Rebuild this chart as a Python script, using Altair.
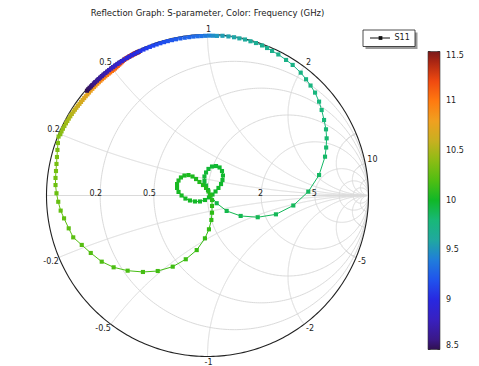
import numpy as np
import pandas as pd
import altair as alt

# ---------------- S11 data ----------------
# low-frequency part, close to the rim: |S11| and angle (deg)
lo_freq = [8.50, 8.52, 8.54, 8.56, 8.58, 8.60, 8.62, 8.64, 8.66, 8.68,
           8.70, 8.72, 8.74, 8.76, 8.78, 8.80, 8.82, 8.84, 8.86, 8.88,
           8.90, 8.92, 8.94, 8.96, 8.98, 9.00, 9.02, 9.04, 9.06, 9.08,
           9.10, 9.12, 9.14, 9.16, 9.18, 9.20, 9.22, 9.24, 9.26, 9.28,
           9.30, 9.32, 9.34, 9.36, 9.39, 9.42, 9.46, 9.50]
lo_ang = [139.0, 138.3, 137.6, 136.9, 136.2, 135.4, 134.7, 133.9, 133.1, 132.3,
          131.5, 130.7, 129.8, 129.0, 128.1, 127.2, 126.3, 125.4, 124.4, 123.5,
          122.5, 121.5, 120.4, 119.4, 118.3, 117.2, 116.1, 114.9, 113.7, 112.5,
          111.2, 109.9, 108.6, 107.2, 105.8, 104.4, 102.9, 101.4, 99.8, 98.2,
          96.6, 95.1, 93.6, 92.2, 90.8, 89.4, 88.0, 86.6]
lo_mag = [0.992, 0.992, 0.992, 0.991, 0.991, 0.991, 0.991, 0.990, 0.990, 0.990,
          0.990, 0.990, 0.990, 0.990, 0.990, 0.990, 0.990, 0.990, 0.990, 0.990,
          0.990, 0.990, 0.990, 0.990, 0.990, 0.990, 0.990, 0.990, 0.990, 0.990,
          0.990, 0.990, 0.990, 0.990, 0.990, 0.990, 0.990, 0.990, 0.990, 0.990,
          0.990, 0.991, 0.991, 0.991, 0.992, 0.993, 0.993, 0.993]

# right-hand arc down to the real axis and back toward the centre
arc_freq = [9.54, 9.56, 9.58, 9.60, 9.62, 9.64, 9.66, 9.68, 9.69, 9.70,
            9.71, 9.72, 9.73, 9.74, 9.75, 9.76, 9.77, 9.78, 9.79, 9.80,
            9.81, 9.82, 9.83, 9.84, 9.85, 9.86,
            9.87, 9.88, 9.89, 9.90, 9.91, 9.92]
arc_re = [0.093, 0.130, 0.165, 0.198, 0.233, 0.267, 0.301, 0.339, 0.370, 0.401,
          0.440, 0.488, 0.529, 0.579, 0.612, 0.640, 0.668, 0.693, 0.709, 0.724,
          0.736, 0.740, 0.737, 0.730, 0.693, 0.626,
          0.533, 0.425, 0.312, 0.206, 0.119, 0.057]
arc_im = [0.992, 0.988, 0.983, 0.976, 0.969, 0.958, 0.947, 0.932, 0.916, 0.898,
          0.876, 0.842, 0.811, 0.763, 0.722, 0.683, 0.639, 0.583, 0.531, 0.469,
          0.411, 0.355, 0.298, 0.241, 0.127, 0.024,
          -0.062, -0.117, -0.135, -0.127, -0.096, -0.048]

# the two small loops around the centre
loop_freq = [9.950, 9.953, 9.956, 9.959, 9.962, 9.965, 9.968, 9.971, 9.974, 9.977,
             9.980, 9.983, 9.986, 9.989, 9.992, 9.995, 9.998,
             10.001, 10.004, 10.007, 10.010, 10.013, 10.016, 10.019, 10.022, 10.025,
             10.028, 10.031, 10.034, 10.037, 10.040, 10.043, 10.046, 10.049,
             10.052, 10.055, 10.058, 10.061]
loop_re = [0.016, 0.003, -0.009, -0.019, -0.019, -0.009, 0.006, 0.028, 0.053, 0.075,
           0.090, 0.096, 0.093, 0.084, 0.068, 0.050, 0.031,
           0.009, -0.016, -0.047, -0.078, -0.109, -0.137, -0.161, -0.180, -0.189,
           -0.189, -0.180, -0.165, -0.143, -0.118, -0.093, -0.071, -0.050,
           -0.028, -0.009, 0.006, 0.019]
loop_im = [0.003, 0.034, 0.062, 0.090, 0.118, 0.143, 0.165, 0.180, 0.183, 0.174,
           0.152, 0.124, 0.096, 0.071, 0.047, 0.025, 0.006,
           -0.012, -0.028, -0.037, -0.037, -0.031, -0.019, 0.000, 0.022, 0.047,
           0.071, 0.093, 0.112, 0.124, 0.127, 0.118, 0.102, 0.084,
           0.065, 0.047, 0.025, 0.003]

# lower-left arc and the left edge
tail_freq = [10.07, 10.08, 10.09, 10.10, 10.11, 10.12, 10.13, 10.14, 10.15, 10.16,
             10.17, 10.18, 10.19, 10.20, 10.21, 10.22, 10.23, 10.24, 10.25, 10.26,
             10.27, 10.28, 10.29, 10.30, 10.31, 10.32, 10.33, 10.34, 10.35, 10.36]
tail_re = [0.028, 0.028, 0.028, 0.024, 0.009, -0.016, -0.067, -0.135, -0.216, -0.309,
           -0.401, -0.496, -0.583, -0.657, -0.725, -0.781, -0.834, -0.862, -0.891, -0.912,
           -0.927, -0.938, -0.944, -0.944, -0.941, -0.938, -0.935, -0.932, -0.929, -0.925]
tail_im = [-0.028, -0.065, -0.107, -0.152, -0.210, -0.266, -0.339, -0.396, -0.442, -0.469,
           -0.475, -0.467, -0.446, -0.411, -0.357, -0.307, -0.260, -0.204, -0.142, -0.094,
           -0.039, 0.014, 0.065, 0.109, 0.152, 0.196, 0.239, 0.283, 0.326, 0.366]

# high-frequency part back near the rim: |S11| and angle (deg)
hi_freq = [10.38, 10.40, 10.42, 10.44, 10.46, 10.48, 10.50, 10.52, 10.54, 10.56,
           10.58, 10.60, 10.62, 10.64, 10.66, 10.68, 10.70, 10.72, 10.74, 10.76,
           10.78, 10.80, 10.82, 10.84, 10.86, 10.88, 10.90, 10.92, 10.94, 10.96,
           10.98, 11.00, 11.02, 11.04, 11.06, 11.08, 11.10, 11.12, 11.14, 11.16,
           11.18, 11.20, 11.22, 11.24, 11.26, 11.28, 11.30, 11.32, 11.34, 11.36,
           11.38, 11.40, 11.42, 11.44, 11.46, 11.48, 11.50]
hi_ang = [157.4, 156.3, 155.2, 154.1, 153.0, 152.0, 151.0, 150.0, 149.0, 148.0,
          147.1, 146.2, 145.3, 144.4, 143.5, 142.6, 141.7, 140.8, 139.9, 139.0,
          138.1, 137.2, 136.3, 135.5, 134.6, 133.8, 133.0, 132.2, 131.4, 130.6,
          129.8, 129.0, 128.3, 127.5, 126.8, 126.1, 125.4, 124.7, 124.0, 123.4,
          122.8, 122.2, 121.6, 121.0, 120.5, 120.0, 119.5, 119.0, 118.5, 118.1,
          117.7, 117.3, 116.9, 116.5, 116.1, 115.8, 115.5]
hi_mag = [0.990, 0.990, 0.989, 0.988, 0.987, 0.986, 0.985, 0.984, 0.983, 0.982,
          0.981, 0.980, 0.979, 0.978, 0.977, 0.977, 0.976, 0.976, 0.975, 0.975,
          0.975, 0.975, 0.975, 0.975, 0.975, 0.975, 0.975, 0.975, 0.975, 0.975,
          0.975, 0.975, 0.975, 0.975, 0.975, 0.976, 0.977, 0.979, 0.981, 0.983,
          0.985, 0.987, 0.989, 0.990, 0.990, 0.990, 0.990, 0.990, 0.990, 0.990,
          0.990, 0.990, 0.990, 0.990, 0.990, 0.990, 0.990]

# Smith-chart grid and labels
r_grid = [0.2, 0.5, 1, 2, 5, 10, 20]
x_grid = [0.2, 0.5, 1, 2, 5, 10, 20]
r_labels = ["0.2", "0.5", "2", "5"]
x_labels = ["0.2", "0.5", "1", "2", "10", "-0.2", "-0.5", "-1", "-2", "-5"]
series_name = ["S11"]

# colour map of the frequency bar (GHz)
c_stops = [8.5, 8.6, 8.8, 9.0, 9.1, 9.35, 9.5, 9.6, 9.8, 10.0, 10.1, 10.3,
           10.5, 10.6, 10.8, 11.0, 11.2, 11.35, 11.5]
c_cols = ["#301050", "#3a1888", "#3820c0", "#2828e0", "#2040f0", "#2070e8",
          "#2098c0", "#20a8a0", "#18b878", "#10b828", "#30bc14", "#70c010",
          "#a8b818", "#c8b020", "#f0a020", "#ff7a10", "#f04a10", "#c02a10", "#7a1a1a"]
bar_ticks = [8.5, 9, 9.5, 10, 10.5, 11, 11.5]

# ---------------- build tables ----------------
lo_r = np.radians(lo_ang)
hi_r = np.radians(hi_ang)
re = np.concatenate([np.array(lo_mag) * np.cos(lo_r), arc_re, loop_re, tail_re,
                     np.array(hi_mag) * np.cos(hi_r)])
im = np.concatenate([np.array(lo_mag) * np.sin(lo_r), arc_im, loop_im, tail_im,
                     np.array(hi_mag) * np.sin(hi_r)])
freq = np.concatenate([lo_freq, arc_freq, loop_freq, tail_freq, hi_freq])
n_hi = len(hi_freq)
# the high-frequency end lies under the low-frequency start in the picture
draw = np.r_[np.arange(len(freq) - n_hi, len(freq)), np.arange(len(freq) - n_hi)]
pts = pd.DataFrame({"re": re, "im": im, "freq": freq}).iloc[draw]
segs = pd.DataFrame({"re": re[:-1], "im": im[:-1], "re2": re[1:], "im2": im[1:],
                     "freq": freq[:-1]})
sdraw = np.r_[np.arange(len(segs) - n_hi, len(segs)), np.arange(len(segs) - n_hi)]
segs = segs.iloc[sdraw]

rows = []
t = np.linspace(0, 2 * np.pi, 361)
for r in r_grid:
    c, rad = r / (1 + r), 1 / (1 + r)
    for k, tt in enumerate(t):
        rows.append({"id": f"r{r}", "k": k, "gx": c + rad * np.cos(tt), "gy": rad * np.sin(tt)})
th = np.linspace(0, np.pi / 2, 600)[:-1]
rr = np.tan(th)
for xv in x_grid:
    for s in (1, -1):
        z = rr + 1j * s * xv
        g = (z - 1) / (z + 1)
        for k, gg in enumerate(g):
            rows.append({"id": f"x{s*xv}", "k": k, "gx": gg.real, "gy": gg.imag})
        rows.append({"id": f"x{s*xv}", "k": len(g), "gx": 1.0, "gy": 0.0})
rows.append({"id": "axis", "k": 0, "gx": -1.0, "gy": 0.0})
rows.append({"id": "axis", "k": 1, "gx": 1.0, "gy": 0.0})
grid = pd.DataFrame(rows)
unit = pd.DataFrame({"k": range(len(t)), "gx": np.cos(t), "gy": np.sin(t)})

rl = pd.DataFrame({"txt": r_labels})
rl["v"] = rl["txt"].astype(float)
rl["gx"] = (rl["v"] - 1) / (rl["v"] + 1)
rl["gy"] = 0.0
xl = pd.DataFrame({"txt": x_labels})
xl["v"] = xl["txt"].astype(float)
xl["gx"] = (xl["v"] ** 2 - 1) / (xl["v"] ** 2 + 1)
xl["gy"] = 2 * xl["v"] / (xl["v"] ** 2 + 1)
xl["side"] = np.where(xl["gx"] < -0.01, "L", np.where(xl["gx"] > 0.01, "R", "C"))
xl["half"] = np.where(xl["v"] > 0, "T", "B")
bt = pd.DataFrame({"f": bar_ticks})

# ---------------- chart ----------------
FONT = "DejaVu Sans"
BAR_X, BAR_Y, BAR_LEN, BAR_W = 381.5, 17, 298, 12
sx = alt.Scale(domain=[-1, 1], nice=False, zero=False)
sy = alt.Scale(domain=[-1, 1], nice=False, zero=False)
cscale = alt.Scale(domain=c_stops, range=c_cols, interpolate="rgb")
leg = alt.Legend(type="gradient", orient="none", legendX=BAR_X, legendY=BAR_Y,
                 direction="vertical",
                 gradientLength=BAR_LEN, gradientThickness=BAR_W, title=None,
                 values=bar_ticks, labelExpr="datum.value + ''",
                 labelFont=FONT, labelFontSize=8, labelColor="#222",
                 labelOffset=6, labelOverlap=False, labelBaseline="middle", padding=0,
                 gradientStrokeColor="#333", gradientStrokeWidth=0.6)

gridc = alt.Chart(grid).mark_line(color="#dadada", strokeWidth=1).encode(
    x=alt.X("gx:Q", scale=sx, axis=None), y=alt.Y("gy:Q", scale=sy, axis=None),
    detail="id:N", order="k:Q")
unitc = alt.Chart(unit).mark_line(color="#222", strokeWidth=1.1).encode(
    x=alt.X("gx:Q", scale=sx, axis=None), y=alt.Y("gy:Q", scale=sy, axis=None),
    order="k:Q")

linec = alt.Chart(segs).mark_rule(strokeWidth=1).encode(
    x=alt.X("re:Q", scale=sx, axis=None), y=alt.Y("im:Q", scale=sy, axis=None),
    x2="re2:Q", y2="im2:Q",
    color=alt.Color("freq:Q", scale=cscale, legend=None))
ptc = alt.Chart(pts).mark_square(size=17, opacity=1).encode(
    x=alt.X("re:Q", scale=sx, axis=None), y=alt.Y("im:Q", scale=sy, axis=None),
    color=alt.Color("freq:Q", scale=cscale, legend=leg))

def txt(df, **kw):
    return alt.Chart(df).mark_text(font=FONT, fontSize=8, color="#222", **kw).encode(
        x=alt.X("gx:Q", scale=sx, axis=None), y=alt.Y("gy:Q", scale=sy, axis=None),
        text="txt:N")

rlab = txt(rl, align="right", baseline="alphabetic", dx=2, dy=0)
tl = txt(xl[(xl.side == "L") & (xl.half == "T")], align="right", baseline="bottom", dx=1)
tr = txt(xl[(xl.side == "R") & (xl.half == "T")], align="left", baseline="bottom", dx=2)
tc = txt(xl[(xl.side == "C") & (xl.half == "T")], align="center", baseline="bottom", dx=1, dy=-1)
bl = txt(xl[(xl.side == "L") & (xl.half == "B")], align="right", baseline="top", dy=1)
br = txt(xl[(xl.side == "R") & (xl.half == "B")], align="left", baseline="top", dx=2, dy=1)
bc = txt(xl[(xl.side == "C") & (xl.half == "B")], align="center", baseline="top", dx=1, dy=2)

# small tick marks on both edges of the colour bar
ty = alt.Y("f:Q", scale=alt.Scale(domain=[8.5, 11.5], range=[BAR_Y + BAR_LEN, BAR_Y]), axis=None)
tick_l = alt.Chart(bt).mark_rule(color="#333", strokeWidth=1).encode(
    x=alt.value(BAR_X), x2=alt.value(BAR_X + 2.5), y=ty)
tick_r = alt.Chart(bt).mark_rule(color="#333", strokeWidth=1).encode(
    x=alt.value(BAR_X + BAR_W - 2.5), x2=alt.value(BAR_X + BAR_W), y=ty)

ldf = pd.DataFrame({"name": series_name})
shadow = alt.Chart(ldf).mark_rect(color="#9a9a9a").encode(
    x=alt.value(319), x2=alt.value(371), y=alt.value(-2), y2=alt.value(14.5))
box = alt.Chart(ldf).mark_rect(fill="white", stroke="#222", strokeWidth=0.8).encode(
    x=alt.value(316.5), x2=alt.value(368.5), y=alt.value(-4.5), y2=alt.value(12))
lrule = alt.Chart(ldf).mark_rule(color="#111", strokeWidth=1).encode(
    x=alt.value(323.5), x2=alt.value(343.5), y=alt.value(3.5))
lsq = alt.Chart(ldf).mark_square(color="#111", size=14, opacity=1).encode(
    x=alt.value(334), y=alt.value(3.5))
ltxt = alt.Chart(ldf).mark_text(font=FONT, fontSize=8, color="#222", align="left",
                                baseline="middle").encode(
    x=alt.value(348), y=alt.value(3.8), text="name:N")

chart = alt.layer(gridc, unitc, linec, ptc, rlab, tl, tr, tc, bl, br, bc,
                  tick_l, tick_r, shadow, box, lrule, lsq, ltxt).resolve_scale(
    color="independent", y="independent").properties(
    width=322, height=322,
    title=alt.TitleParams("Reflection Graph: S-parameter, Color: Frequency (GHz)",
                          font=FONT, fontSize=8.5, fontWeight="normal", color="#222",
                          anchor="middle", offset=8),
    autosize=alt.AutoSizeParams(type="none"),
    padding={"left": 38.5, "top": 26.5, "right": 101, "bottom": 9},
).configure_view(stroke=None)

chart.save("out.html", embed_options={"renderer": "svg", "actions": False})
